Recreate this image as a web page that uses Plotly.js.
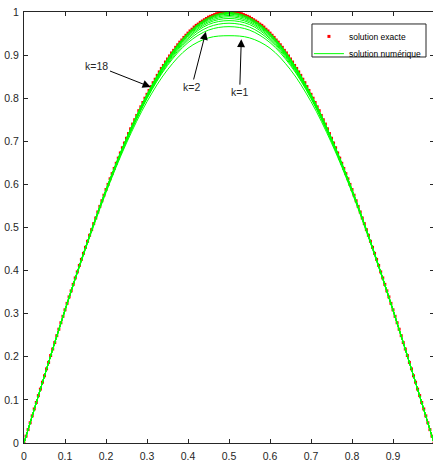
<!DOCTYPE html>
<html>
<head>
<meta charset="utf-8">
<script src="https://cdn.plot.ly/plotly-3.0.1.min.js"></script>
<style>
html,body{margin:0;padding:0;overflow:hidden;background:#fff;}
#chart{width:436px;height:466px;}
</style>
</head>
<body>
<div id="chart"></div>
<script>
// Exact solution (red dots)
var xExact = [0,0.005,0.01,0.015,0.02,0.025,0.03,0.035,0.04,0.045,0.05,0.055,0.06,0.065,0.07,0.075,0.08,0.085,0.09,0.095,
0.1,0.105,0.11,0.115,0.12,0.125,0.13,0.135,0.14,0.145,0.15,0.155,0.16,0.165,0.17,0.175,0.18,0.185,0.19,0.195,
0.2,0.205,0.21,0.215,0.22,0.225,0.23,0.235,0.24,0.245,0.25,0.255,0.26,0.265,0.27,0.275,0.28,0.285,0.29,0.295,
0.3,0.305,0.31,0.315,0.32,0.325,0.33,0.335,0.34,0.345,0.35,0.355,0.36,0.365,0.37,0.375,0.38,0.385,0.39,0.395,
0.4,0.405,0.41,0.415,0.42,0.425,0.43,0.435,0.44,0.445,0.45,0.455,0.46,0.465,0.47,0.475,0.48,0.485,0.49,0.495,
0.5,0.505,0.51,0.515,0.52,0.525,0.53,0.535,0.54,0.545,0.55,0.555,0.56,0.565,0.57,0.575,0.58,0.585,0.59,0.595,
0.6,0.605,0.61,0.615,0.62,0.625,0.63,0.635,0.64,0.645,0.65,0.655,0.66,0.665,0.67,0.675,0.68,0.685,0.69,0.695,
0.7,0.705,0.71,0.715,0.72,0.725,0.73,0.735,0.74,0.745,0.75,0.755,0.76,0.765,0.77,0.775,0.78,0.785,0.79,0.795,
0.8,0.805,0.81,0.815,0.82,0.825,0.83,0.835,0.84,0.845,0.85,0.855,0.86,0.865,0.87,0.875,0.88,0.885,0.89,0.895,
0.9,0.905,0.91,0.915,0.92,0.925,0.93,0.935,0.94,0.945,0.95,0.955,0.96,0.965,0.97,0.975,0.98,0.985,0.99,0.995,1];
var yExact = [0,.016,.031,.047,.063,.079,.094,.110,.125,.141,
.156,.172,.187,.203,.218,.233,.249,.264,.279,.294,
.309,.324,.339,.353,.368,.383,.397,.412,.426,.440,
.454,.468,.482,.495,.509,.522,.536,.549,.562,.575,
.588,.600,.613,.625,.637,.649,.661,.673,.685,.696,
.707,.718,.729,.740,.750,.760,.771,.780,.790,.800,
.809,.818,.827,.836,.844,.853,.861,.869,.876,.884,
.891,.898,.905,.911,.918,.924,.930,.935,.941,.946,
.951,.956,.960,.965,.969,.972,.976,.979,.982,.985,
.988,.990,.992,.994,.996,.997,.998,.999,1.000,1.000,
1.000,
1.000,1.000,.999,.998,.997,.996,.994,.992,.990,.988,
.985,.982,.979,.976,.972,.969,.965,.960,.956,.951,
.946,.941,.935,.930,.924,.918,.911,.905,.898,.891,
.884,.876,.869,.861,.853,.844,.836,.827,.818,.809,
.800,.790,.780,.771,.760,.750,.740,.729,.718,.707,
.696,.685,.673,.661,.649,.637,.625,.613,.600,.588,
.575,.562,.549,.536,.522,.509,.495,.482,.468,.454,
.440,.426,.412,.397,.383,.368,.353,.339,.324,.309,
.294,.279,.264,.249,.233,.218,.203,.187,.172,.156,
.141,.125,.110,.094,.079,.063,.047,.031,.016,0];

// Numerical solutions (green lines), one per iteration k
var xNum = [0,0.05,0.1,0.15,0.2,0.25,0.3,0.35,0.4,0.45,0.5,0.55,0.6,0.65,0.7,0.75,0.8,0.85,0.9,0.95,1];
var yK1  = [0,.155,.307,.450,.581,.696,.792,.866,.916,.940,.945,.940,.916,.866,.792,.696,.581,.450,.307,.155,0];
var yK2  = [0,.156,.308,.452,.584,.700,.799,.876,.929,.958,.966,.958,.929,.876,.799,.700,.584,.452,.308,.156,0];
var yK3  = [0,.156,.308,.452,.585,.702,.801,.879,.934,.965,.974,.965,.934,.879,.801,.702,.585,.452,.308,.156,0];
var yK4  = [0,.156,.308,.453,.585,.703,.803,.882,.938,.971,.980,.971,.938,.882,.803,.703,.585,.453,.308,.156,0];
var yK5  = [0,.156,.308,.453,.586,.704,.804,.884,.941,.975,.985,.975,.941,.884,.804,.704,.586,.453,.308,.156,0];
var yK6  = [0,.156,.309,.453,.587,.705,.806,.886,.944,.978,.989,.978,.944,.886,.806,.705,.587,.453,.309,.156,0];
var yK7  = [0,.156,.309,.453,.587,.706,.807,.887,.946,.981,.992,.981,.946,.887,.807,.706,.587,.453,.309,.156,0];
var yK8  = [0,.156,.309,.454,.587,.706,.807,.889,.948,.983,.995,.983,.948,.889,.807,.706,.587,.454,.309,.156,0];
var yK9  = [0,.156,.309,.454,.588,.707,.808,.890,.949,.985,.997,.985,.949,.890,.808,.707,.588,.454,.309,.156,0];
var yK18 = [0,.156,.309,.454,.588,.707,.809,.891,.951,.987,.999,.987,.951,.891,.809,.707,.588,.454,.309,.156,0];
var numSeries = [yK1,yK2,yK3,yK4,yK5,yK6,yK7,yK8,yK9,yK18];

var xTicks = [0,0.1,0.2,0.3,0.4,0.5,0.6,0.7,0.8,0.9];
var xTickText = ['0','0.1','0.2','0.3','0.4','0.5','0.6','0.7','0.8','0.9'];
var yTicks = [0,0.1,0.2,0.3,0.4,0.5,0.6,0.7,0.8,0.9,1];
var yTickText = ['0','0.1','0.2','0.3','0.4','0.5','0.6','0.7','0.8','0.9','1'];

var FONT = 'Liberation Sans, Arial, Helvetica, sans-serif';
var AX = '#262626';

var traces = [{
  x: xExact, y: yExact, type: 'scatter', mode: 'markers',
  name: 'solution exacte', legend: 'legend',
  marker: {color: '#ff0000', size: 3, symbol: 'square'}
}];
numSeries.forEach(function(ys, i){
  traces.push({
    x: xNum, y: ys, type: 'scatter', mode: 'lines',
    name: 'solution numérique', showlegend: i === 0, legend: 'legend2',
    line: {color: '#00ff00', width: 1, shape: 'spline', smoothing: 1}
  });
});

function axis(ticks, text, range, standoff){
  return {
    range: range, tickvals: ticks, ticktext: text,
    ticks: 'inside', ticklen: 4, tickwidth: 1, tickcolor: AX,
    showline: true, linecolor: AX, linewidth: 1, mirror: 'allticks',
    showgrid: false, zeroline: false, ticklabelstandoff: standoff,
    tickfont: {family: FONT, size: 10.5, color: AX}
  };
}

var legFont = {family: FONT, size: 8.5, color: '#000'};
var annFont = {family: FONT, size: 10.5, color: AX};
var layout = {
  width: 436, height: 466,
  margin: {l: 24, r: 2, t: 12, b: 23, autoexpand: false},
  paper_bgcolor: '#fff', plot_bgcolor: '#fff',
  xaxis: axis(xTicks, xTickText, [0, 1], 3),
  yaxis: axis(yTicks, yTickText, [0, 1], 2),
  showlegend: true,
  legend: {
    x: 0.695, y: 0.977, xanchor: 'left', yanchor: 'top',
    bgcolor: 'rgba(0,0,0,0)', borderwidth: 0, font: legFont
  },
  legend2: {
    x: 0.695, y: 0.937, xanchor: 'left', yanchor: 'top',
    bgcolor: 'rgba(0,0,0,0)', borderwidth: 0, font: legFont
  },
  shapes: [
    {type: 'rect', xref: 'paper', yref: 'paper', x0: 0.7024, x1: 0.9805, y0: 0.8956, y1: 0.9722,
     line: {color: AX, width: 1}, fillcolor: 'rgba(255,255,255,0)', layer: 'below'}
  ],
  annotations: [
    {x: 0.3087, y: 0.826, ax: 0.178, ay: 0.875, axref: 'x', ayref: 'y', xref: 'x', yref: 'y',
     text: 'k=18', showarrow: true, arrowhead: 2, arrowsize: 1.6, arrowwidth: 1, arrowcolor: '#000', font: annFont},
    {x: 0.4435, y: 0.954, ax: 0.409, ay: 0.826, axref: 'x', ayref: 'y', xref: 'x', yref: 'y',
     text: 'k=2', showarrow: true, arrowhead: 2, arrowsize: 1.6, arrowwidth: 1, arrowcolor: '#000', font: annFont},
    {x: 0.530, y: 0.937, ax: 0.526, ay: 0.814, axref: 'x', ayref: 'y', xref: 'x', yref: 'y',
     text: 'k=1', showarrow: true, arrowhead: 2, arrowsize: 1.6, arrowwidth: 1, arrowcolor: '#000', font: annFont}
  ]
};

Plotly.newPlot('chart', traces, layout, {displayModeBar: false, staticPlot: true});
</script>
</body>
</html>
